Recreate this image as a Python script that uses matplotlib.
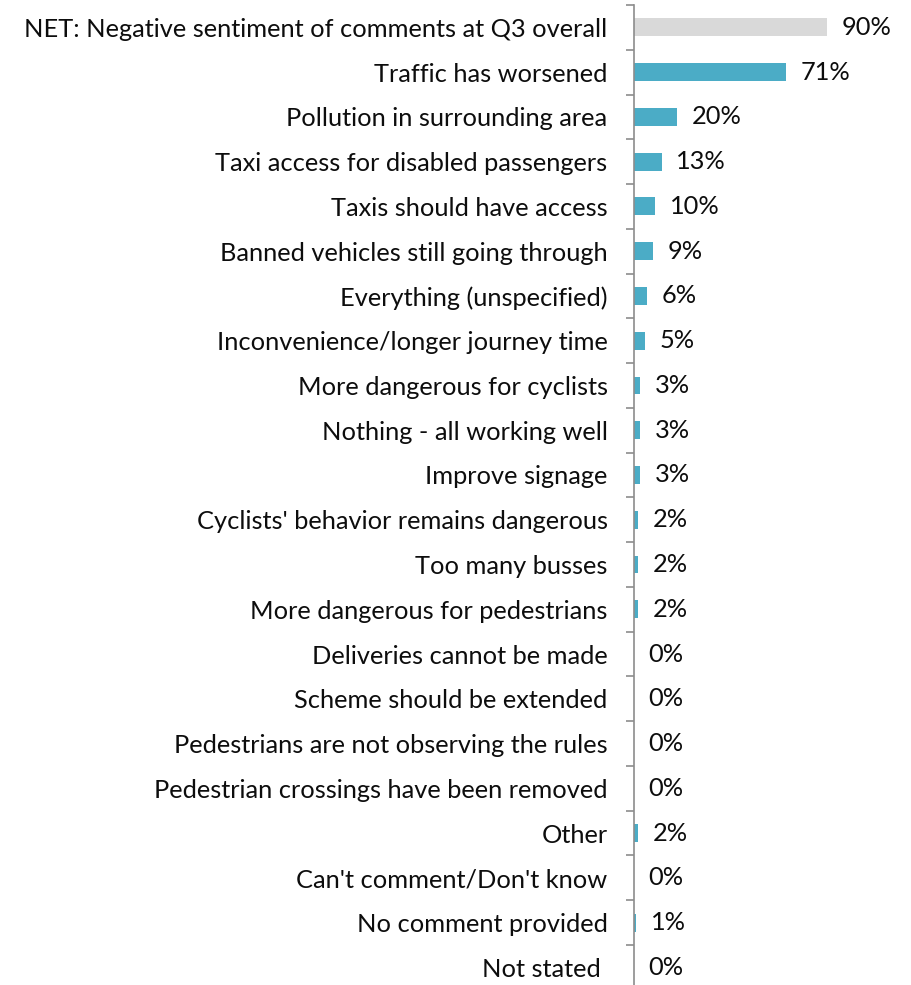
import numpy as np
import matplotlib.pyplot as plt

plt.rcParams['font.family'] = ['Lato', 'DejaVu Sans']

# Survey responses, top to bottom
categories = [
    "NET: Negative sentiment of comments at Q3 overall",
    "Traffic has worsened",
    "Pollution in surrounding area",
    "Taxi access for disabled passengers",
    "Taxis should have access",
    "Banned vehicles still going through",
    "Everything (unspecified)",
    "Inconvenience/longer journey time",
    "More dangerous for cyclists",
    "Nothing - all working well",
    "Improve signage",
    "Cyclists' behavior remains dangerous",
    "Too many busses",
    "More dangerous for pedestrians",
    "Deliveries cannot be made",
    "Scheme should be extended",
    "Pedestrians are not observing the rules",
    "Pedestrian crossings have been removed",
    "Other",
    "Can't comment/Don't know",
    "No comment provided",
    "Not stated ",
]
values = [90, 71, 20, 13, 10, 9, 6, 5, 3, 3, 3, 2, 2, 2, 0, 0, 0, 0, 2, 0, 1, 0]

net_color = "#D9D9D9"
bar_color = "#4BACC6"
axis_color = "#8C8C8C"
text_color = "#0D0D0D"

fig = plt.figure(figsize=(9.11, 9.85), dpi=100)
# plot area runs a few pixels past the bottom edge of the figure
row_px = 44.76
ax_h = row_px * len(categories)
ax = fig.add_axes([634 / 911, (980 - ax_h) / 985, 214 / 911, ax_h / 985])

y = np.arange(len(categories))
colors = [net_color] + [bar_color] * (len(categories) - 1)
ax.barh(y, values, height=0.4, color=colors, zorder=2)

for yi, v in zip(y, values):
    ax.annotate(f"{v}%", xy=(v, yi), xytext=(10.5, 0), textcoords="offset points",
                ha="left", va="center", fontsize=18.3, color=text_color,
                annotation_clip=False)

ax.set_xlim(0, 100)
ax.set_ylim(len(categories) - 0.5, -0.5)

ax.set_yticks(y)
ax.set_yticklabels(categories, fontsize=18.3, color=text_color)
ax.tick_params(axis="y", which="major", length=0, pad=19)
ax.set_yticks(np.arange(-0.5, len(categories), 1.0), minor=True)
ax.tick_params(axis="y", which="minor", length=6, width=1.2, color=axis_color)
ax.set_xticks([])

for side in ["top", "right", "bottom"]:
    ax.spines[side].set_visible(False)
ax.spines["left"].set_color(axis_color)
ax.spines["left"].set_linewidth(1.2)

fig.savefig("out.png", dpi=100)
